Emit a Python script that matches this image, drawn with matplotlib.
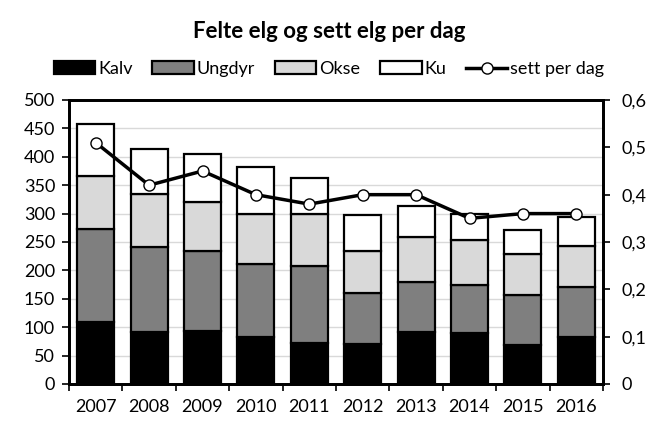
import matplotlib
matplotlib.use("Agg")
import matplotlib.pyplot as plt
from matplotlib.ticker import FuncFormatter
import numpy as np

years = ["2007", "2008", "2009", "2010", "2011", "2012", "2013", "2014", "2015", "2016"]
kalv = [109, 91, 94, 83, 73, 70, 91, 89, 69, 83]
ungdyr = [164, 151, 140, 128, 135, 91, 88, 85, 88, 88]
okse = [93, 93, 87, 88, 91, 73, 80, 79, 71, 72]
ku = [91, 79, 84, 83, 64, 64, 55, 46, 43, 51]
sett_per_dag = [0.51, 0.42, 0.45, 0.40, 0.38, 0.40, 0.40, 0.35, 0.36, 0.36]

plt.rcParams['font.family'] = ['Lato', 'DejaVu Sans']

fig = plt.figure(figsize=(6.58, 4.37), dpi=100)
ax = fig.add_axes([69/658, 1 - 384/437, (603 - 69)/658, (384 - 100)/437])
x = np.arange(len(years))
w = 0.69
ec = 'black'
lw = 1.6
b1 = ax.bar(x, kalv, w, color='black', edgecolor=ec, linewidth=lw, label='Kalv', zorder=3)
bottom = np.array(kalv)
b2 = ax.bar(x, ungdyr, w, bottom=bottom, color='#7f7f7f', edgecolor=ec, linewidth=lw, label='Ungdyr', zorder=3)
bottom = bottom + np.array(ungdyr)
b3 = ax.bar(x, okse, w, bottom=bottom, color='#d9d9d9', edgecolor=ec, linewidth=lw, label='Okse', zorder=3)
bottom = bottom + np.array(okse)
b4 = ax.bar(x, ku, w, bottom=bottom, color='white', edgecolor=ec, linewidth=lw, label='Ku', zorder=3)

ax.set_ylim(0, 500)
ax.set_yticks(range(0, 501, 50))
ax.set_xlim(-0.5, len(years) - 0.5)
ax.set_xticks(x)
ax.set_xticklabels(years)
ax.set_xticks(np.arange(-0.5, len(years), 1.0), minor=True)
ax.tick_params(axis='x', which='major', length=0, labelsize=13, pad=11)
ax.tick_params(axis='x', which='minor', length=5, width=1.2, direction='out')
ax.tick_params(axis='y', labelsize=13, length=5, width=1.2, direction='out', pad=5)
ax.grid(axis='y', color='#d9d9d9', linewidth=1, zorder=0)
for s in ax.spines.values():
    s.set_linewidth(2)
    s.set_color('black')

ax2 = ax.twinx()
ln, = ax2.plot(x, sett_per_dag, color='black', linewidth=2.5, marker='o', markersize=8,
               markerfacecolor='white', markeredgecolor='black', markeredgewidth=1, label='sett per dag', zorder=5)
ax2.set_ylim(0, 0.6)
ax2.set_yticks(np.arange(0, 0.61, 0.1))
ax2.yaxis.set_major_formatter(FuncFormatter(lambda v, p: '0' if abs(v) < 1e-9 else f"{v:.1f}".replace('.', ',')))
ax2.tick_params(axis='y', labelsize=13, length=5, width=1.2, direction='out', pad=8)
for s in ax2.spines.values():
    s.set_linewidth(2)

fig.text(0.5, 1 - 31/437, 'Felte elg og sett elg per dag', ha='center', va='center',
         fontsize=16, fontweight='bold')
fig.legend(handles=[b1, b2, b3, b4, ln], labels=['Kalv', 'Ungdyr', 'Okse', 'Ku', 'sett per dag'],
           loc='center', bbox_to_anchor=(0.5, 1 - 69/437), ncol=5, frameon=False,
           fontsize=13, handlelength=2.3, handletextpad=0.15, columnspacing=1.1)

fig.savefig('out.png', dpi=100)
